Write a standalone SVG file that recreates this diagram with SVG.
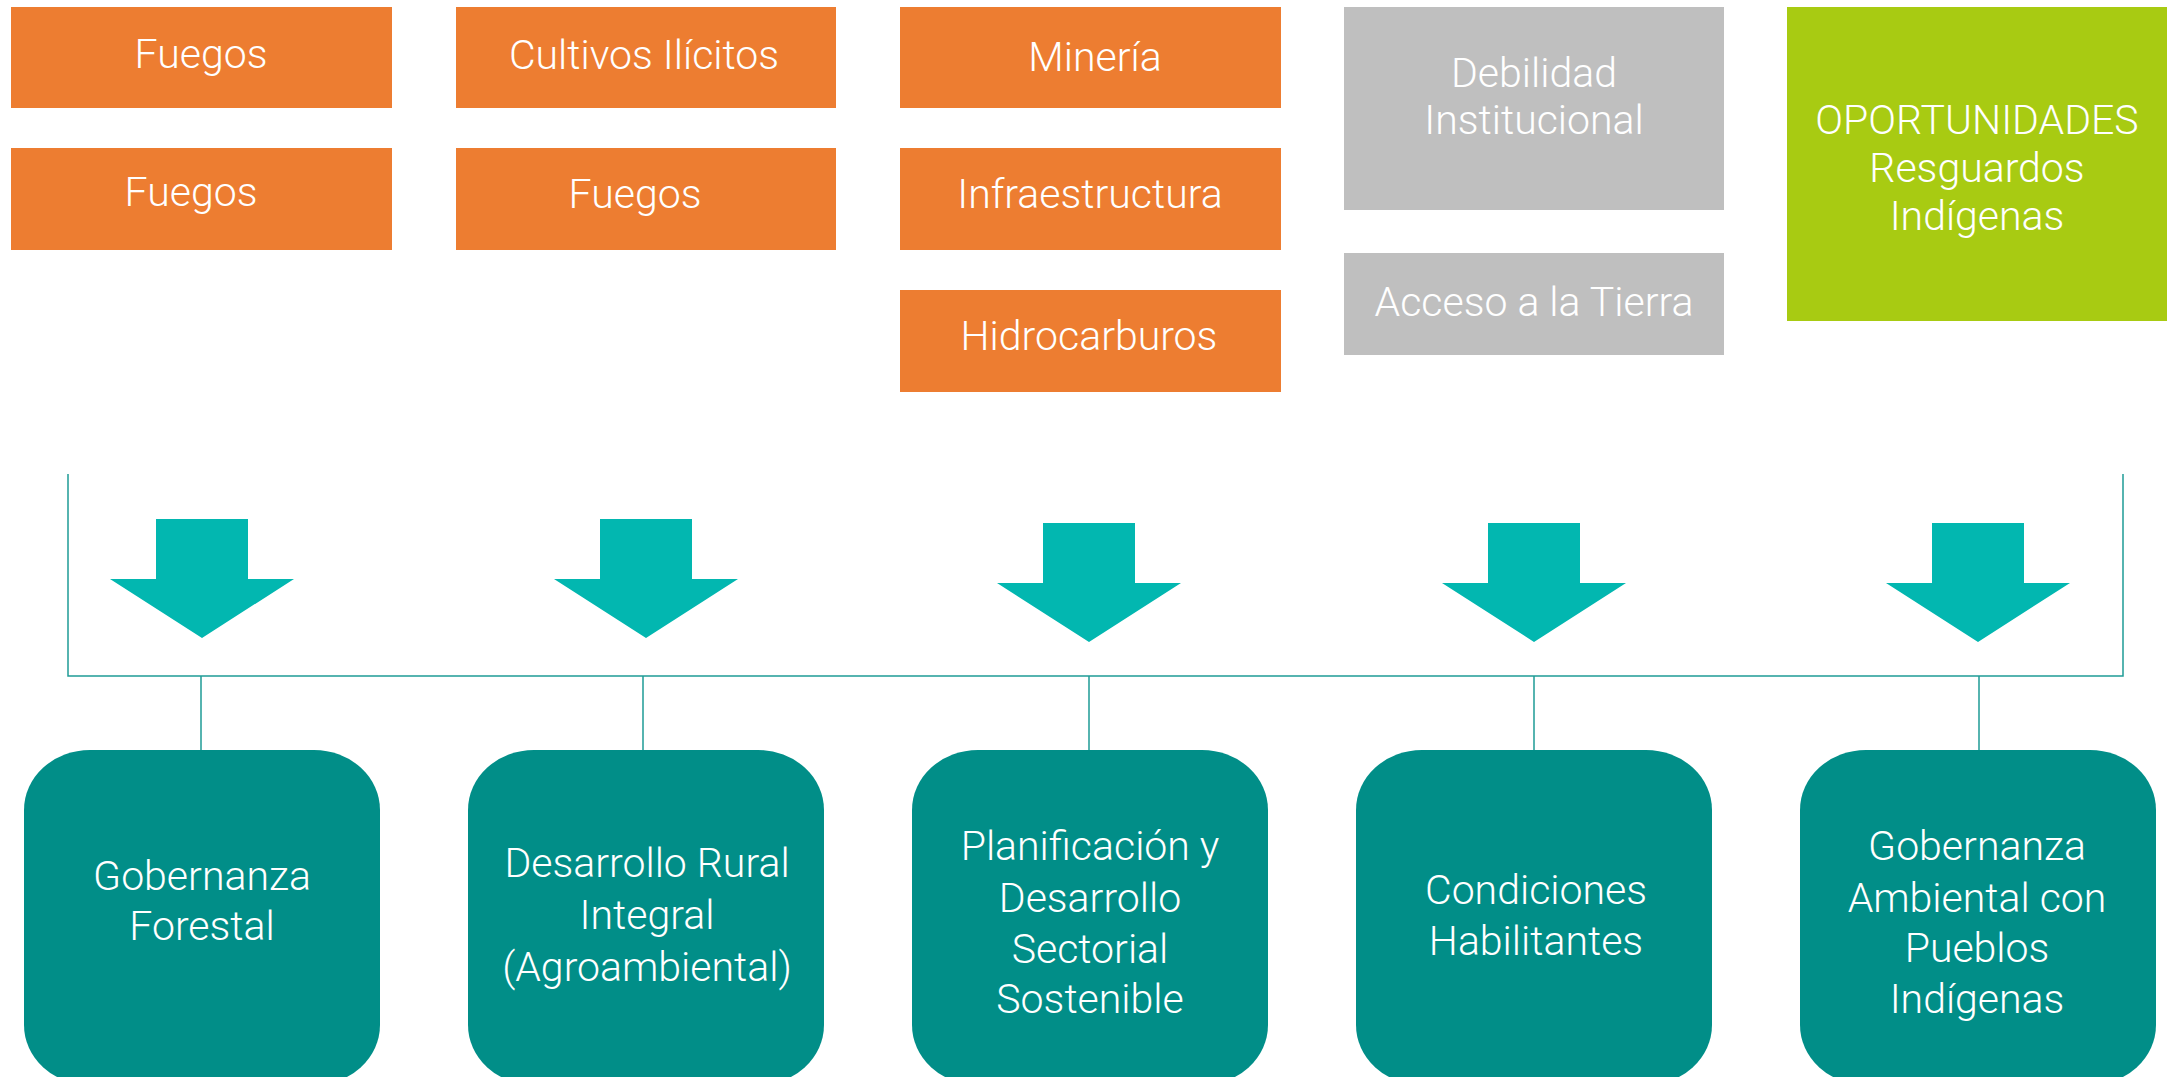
<svg xmlns="http://www.w3.org/2000/svg" width="2173" height="1077" viewBox="0 0 2173 1077">
<style>
.t{font-family:Roboto,"Liberation Sans",Arial,sans-serif;font-weight:300;font-size:41px;fill:#ffffff;text-anchor:middle}
.or{fill:#ED7D31}
.gr{fill:#BFBFBF}
.gn{fill:#A8CB12}
.tl{fill:#018E88}
.ar{fill:#02B7B0}
.ln{stroke:#1F9C96;stroke-width:1.5;fill:none}
</style>
<rect width="2173" height="1077" fill="#ffffff"/>
<g id="n-fuegos1"><rect class="or" x="11" y="7" width="381" height="101"/><text class="t" x="201" y="68">Fuegos</text></g>
<g id="n-cultivos"><rect class="or" x="456" y="7" width="380" height="101"/><text class="t" x="644" y="69">Cultivos Ilícitos</text></g>
<g id="n-mineria"><rect class="or" x="900" y="7" width="381" height="101"/><text class="t" x="1095" y="71">Minería</text></g>
<g id="n-debilidad"><rect class="gr" x="1344" y="7" width="380" height="203"/><text class="t" x="1534" y="87">Debilidad</text><text class="t" x="1534" y="134">Institucional</text></g>
<g id="n-oportunidades"><rect class="gn" x="1787" y="7" width="380" height="314"/><text class="t" x="1977" y="134">OPORTUNIDADES</text><text class="t" x="1977" y="182">Resguardos</text><text class="t" x="1977" y="230">Indígenas</text></g>
<g id="n-fuegos2"><rect class="or" x="11" y="148" width="381" height="102"/><text class="t" x="191" y="206">Fuegos</text></g>
<g id="n-fuegos3"><rect class="or" x="456" y="148" width="380" height="102"/><text class="t" x="635" y="208">Fuegos</text></g>
<g id="n-infra"><rect class="or" x="900" y="148" width="381" height="102"/><text class="t" x="1090" y="208">Infraestructura</text></g>
<g id="n-acceso"><rect class="gr" x="1344" y="253" width="380" height="102"/><text class="t" x="1534" y="316">Acceso a la Tierra</text></g>
<g id="n-hidro"><rect class="or" x="900" y="290" width="381" height="102"/><text class="t" x="1089" y="350">Hidrocarburos</text></g>
<g id="connectors">
<path class="ln" d="M68 474 V676 H2123 V474"/>
<path class="ln" d="M201 676 V750 M643 676 V750 M1089 676 V750 M1534 676 V750 M1979 676 V750"/>
<polygon class="ar" points="156,519 248,519 248,579 294,579 202,638 110,579 156,579"/>
<polygon class="ar" points="600,519 692,519 692,579 738,579 646,638 554,579 600,579"/>
<polygon class="ar" points="1043,523 1135,523 1135,583 1181,583 1089,642 997,583 1043,583"/>
<polygon class="ar" points="1488,523 1580,523 1580,583 1626,583 1534,642 1442,583 1488,583"/>
<polygon class="ar" points="1932,523 2024,523 2024,583 2070,583 1978,642 1886,583 1932,583"/>
</g>
<g id="n-gobernanza"><rect class="tl" x="24" y="750" width="356" height="335" rx="66" ry="60"/><text class="t" x="202" y="890">Gobernanza</text><text class="t" x="202" y="940">Forestal</text></g>
<g id="n-desarrollo"><rect class="tl" x="468" y="750" width="356" height="335" rx="66" ry="60"/><text class="t" x="647" y="877">Desarrollo Rural</text><text class="t" x="647" y="929">Integral</text><text class="t" x="647" y="981">(Agroambiental)</text></g>
<g id="n-planificacion"><rect class="tl" x="912" y="750" width="356" height="335" rx="66" ry="60"/><text class="t" x="1090" y="860">Planificación y</text><text class="t" x="1090" y="912">Desarrollo</text><text class="t" x="1090" y="963">Sectorial</text><text class="t" x="1090" y="1013">Sostenible</text></g>
<g id="n-condiciones"><rect class="tl" x="1356" y="750" width="356" height="335" rx="66" ry="60"/><text class="t" x="1536" y="904">Condiciones</text><text class="t" x="1536" y="955">Habilitantes</text></g>
<g id="n-gobamb"><rect class="tl" x="1800" y="750" width="356" height="335" rx="66" ry="60"/><text class="t" x="1977" y="860">Gobernanza</text><text class="t" x="1977" y="912">Ambiental con</text><text class="t" x="1977" y="962">Pueblos</text><text class="t" x="1977" y="1013">Indígenas</text></g>
</svg>
